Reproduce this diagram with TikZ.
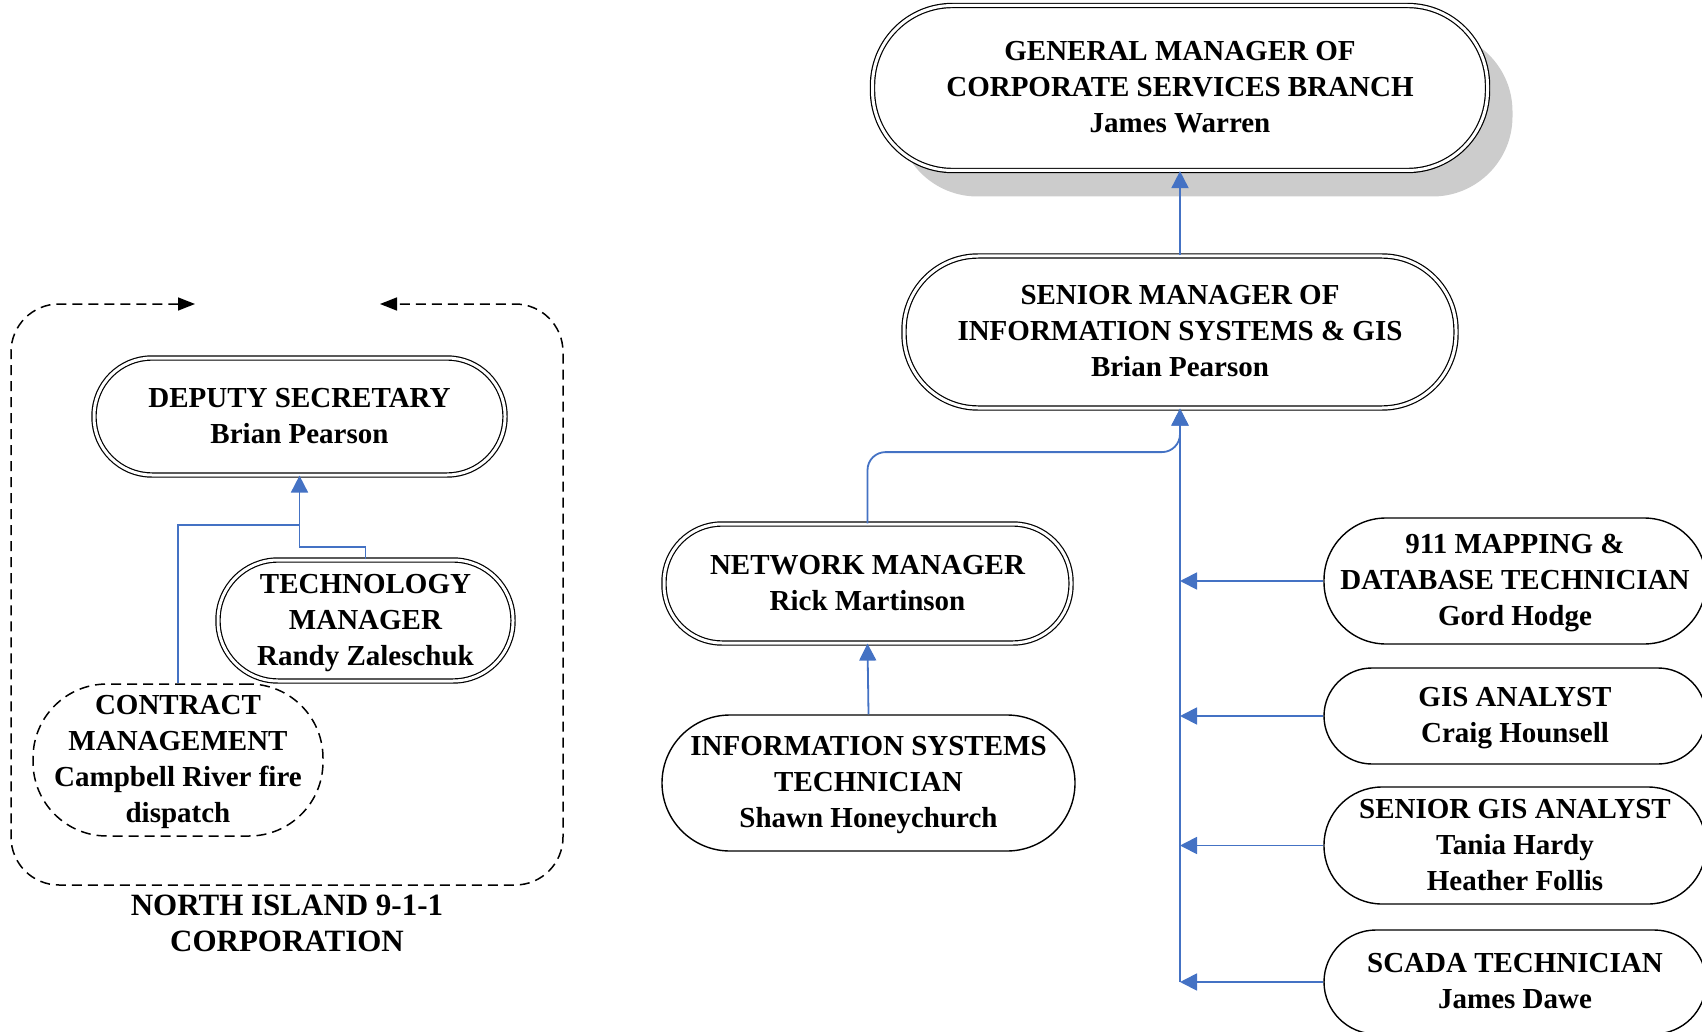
\documentclass[tikz,border=0pt]{standalone}
\usepackage{fontspec}
\setmainfont{Liberation Serif}
\usetikzlibrary{arrows.meta,shadows,calc}
\definecolor{linkblue}{HTML}{4472C4}
\definecolor{shadowgray}{HTML}{CCCCCC}
\begin{document}
\begin{tikzpicture}[x=0.5pt,y=-0.5pt,
  every node/.style={font=\fontsize{14.5}{18}\selectfont\bfseries, align=center, inner sep=0pt},
  boxtext/.style={text depth=0.8pt},
  pill/.style={boxtext, draw=black, line width=0.7pt, fill=white, rounded corners=#1},
  dpill/.style={boxtext, draw=black, double=white, double distance=1.5pt, line width=0.6pt, fill=white, rounded corners=#1},
  conn/.style={draw=linkblue, line width=0.9pt, -{Triangle[length=8.5pt,width=8.5pt]}},
  link/.style={draw=linkblue, line width=0.9pt},
  dashline/.style={line width=0.75pt, dash pattern=on 5pt off 3pt},
]
\useasboundingbox (0,0) rectangle (1702,1032);

% top hierarchy
\node[dpill=40pt, minimum width=307.5pt, minimum height=82.5pt,
      general shadow={fill=shadowgray, shadow xshift=12.5pt, shadow yshift=-13pt}]
  (gm) at (1180,88) {GENERAL MANAGER OF\\CORPORATE SERVICES BRANCH\\James Warren};
\node[dpill=37pt, minimum width=276pt, minimum height=76pt]
  (sm) at (1180,332) {SENIOR MANAGER OF\\INFORMATION SYSTEMS \& GIS\\Brian Pearson};

% network branch
\node[dpill=29pt, minimum width=203.5pt, minimum height=59.5pt]
  (nm) at (867.5,583.5) {NETWORK MANAGER\\Rick Martinson};
\node[pill=34pt, minimum width=206.5pt, minimum height=68pt]
  (ist) at (868.5,783) {INFORMATION SYSTEMS\\TECHNICIAN\\Shawn Honeychurch};

% GIS staff
\node[pill=31pt, minimum width=191pt, minimum height=63pt]
  (map) at (1515,581) {911 MAPPING \&\\DATABASE TECHNICIAN\\Gord Hodge};
\node[pill=24pt, minimum width=191pt, minimum height=48pt]
  (gis) at (1515,716) {GIS ANALYST\\Craig Hounsell};
\node[pill=29pt, minimum width=191pt, minimum height=58.5pt]
  (sgis) at (1515,845.5) {SENIOR GIS ANALYST\\Tania Hardy\\Heather Follis};
\node[pill=26pt, minimum width=191pt, minimum height=52pt]
  (scada) at (1515,982) {SCADA TECHNICIAN\\James Dawe};

% North Island 9-1-1
\node[dpill=29pt, minimum width=205.5pt, minimum height=58.5pt]
  (dep) at (299.5,416.5) {DEPUTY SECRETARY\\Brian Pearson};
\node[dpill=30pt, minimum width=147.5pt, minimum height=60.5pt]
  (tm) at (365.5,620.5) {TECHNOLOGY\\MANAGER\\Randy Zaleschuk};
\node[pill=37pt, dashline, minimum width=145pt, minimum height=76pt]
  (cm) at (178,760) {CONTRACT\\MANAGEMENT\\Campbell River fire\\dispatch};
\node[font=\fontsize{15.5}{18}\selectfont\bfseries]
  (corp) at (287,923) {NORTH ISLAND 9-1-1\\CORPORATION};

% dashed frame
\coordinate (fa) at (195,304);
\coordinate (fb) at (380,304);
\draw[dashline, rounded corners=24pt,
      {Triangle[length=8.5pt,width=6.5pt]}-{Triangle[length=8.5pt,width=6.5pt]}]
  (fa) -- (11,304) -- (11,885) -- (563,885) -- (563,304) -- (fb);

% connectors (right)
\draw[conn] (sm.north) -- (gm.south);
\draw[conn, rounded corners=9pt] (nm.north) |- ($(sm.south)+(0,43.5)$) -- (sm.south);
\draw[conn] (ist.north) -- (nm.south);
\coordinate (busbot) at (1180,982);
\draw[conn] (busbot) -- (sm.south);
\draw[conn] (map.west) -- (map.west -| busbot);
\draw[conn] (gis.west) -- (gis.west -| busbot);
\draw[conn] (sgis.west) -- (sgis.west -| busbot);
\draw[conn] (scada.west) -- (scada.west -| busbot);

% connectors (left)
\coordinate (j1) at ($(dep.south)+(0,49)$);
\draw[conn] (cm.north) |- (j1) -- (dep.south);
\draw[link] (tm.north) |- ($(dep.south)+(0,71)$) -- (j1);
\end{tikzpicture}
\end{document}
